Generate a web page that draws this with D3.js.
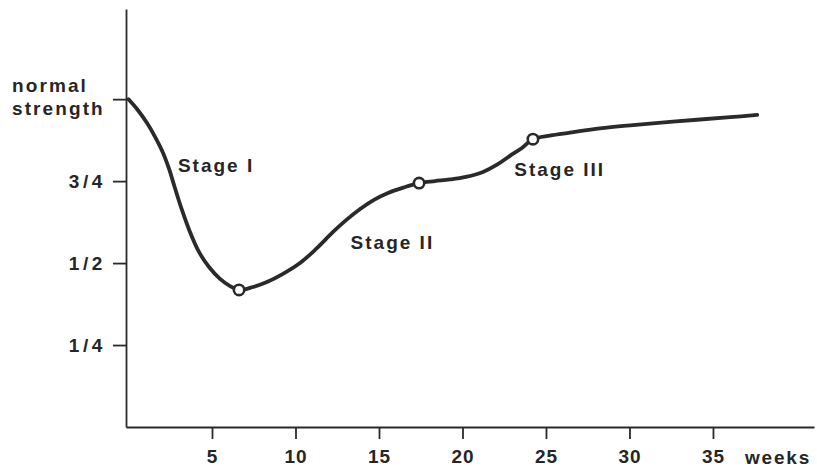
<!DOCTYPE html>
<html>
<head>
<meta charset="utf-8">
<script src="https://cdn.jsdelivr.net/npm/d3@7"></script>
<style>
  html, body { margin: 0; padding: 0; background: #fff; }
  svg { display: block; }
  text { font-family: "Liberation Sans", Arial, Helvetica, sans-serif; font-weight: bold; fill: #262626; }
</style>
</head>
<body>
<svg id="chart" width="817" height="468"></svg>
<script>
// ---- data ----
const weeks = [
  0, 0.51, 1.11, 1.59, 2.07, 2.43, 2.78, 3.20, 3.68, 4.22, 4.82, 5.48, 6.08, 6.62,
  7.46, 8.29, 9.25, 10.27, 11.23, 12.25, 13.03, 13.87, 14.70, 15.54, 16.44, 17.40,
  18.35, 19.25, 20.21, 21.23, 22.07, 22.84, 23.56, 24.22,
  25.24, 26.44, 28.23, 30.21, 32.25, 34.23, 36.03, 37.65
];
const strength = [
  1.0, 0.970, 0.927, 0.885, 0.836, 0.787, 0.729, 0.662, 0.595, 0.534, 0.488, 0.452, 0.430, 0.418,
  0.427, 0.442, 0.467, 0.500, 0.543, 0.595, 0.631, 0.665, 0.693, 0.714, 0.730, 0.744,
  0.750, 0.755, 0.763, 0.778, 0.800, 0.827, 0.851, 0.878,
  0.889, 0.898, 0.911, 0.921, 0.930, 0.938, 0.945, 0.952
];

const markerWeeks    = [6.62, 17.40, 24.22];
const markerStrength = [0.418, 0.744, 0.878];

const xTicks      = [5, 10, 15, 20, 25, 30, 35];
const xUnitLabel  = "weeks";
const yTicks      = [0.25, 0.5, 0.75, 1.0];
const yTickLabels = ["1/4", "1/2", "3/4", ""];
const yTopLabel   = ["normal", "strength"];

const stageLabels   = ["Stage I", "Stage II", "Stage III"];
const stageWeek     = [2.96, 13.3, 23.1];
const stageStrength = [0.777, 0.543, 0.765];

// ---- layout ----
const svg = d3.select("#chart");
const ink = "#2a2a2a";

const x = d3.scaleLinear().domain([-0.15, 41.05]).range([126, 814]);
const y = d3.scaleLinear().domain([0, 1.275]).range([427, 9]);

// y axis
const yAxis = d3.axisLeft(y)
  .tickValues(yTicks)
  .tickSize(13)
  .tickSizeOuter(0)
  .tickPadding(7)
  .tickFormat((d, i) => yTickLabels[i]);

const gy = svg.append("g").attr("transform", `translate(${x(-0.15)},0)`).call(yAxis);
gy.select(".domain").attr("stroke", ink).attr("stroke-width", 1.8);
gy.selectAll(".tick line").attr("stroke", ink).attr("stroke-width", 1.8);
gy.selectAll(".tick text")
  .attr("font-size", 19)
  .attr("letter-spacing", "3.6px")
  .attr("dy", "0.36em")
  .style("font-family", "'Liberation Sans', Arial, sans-serif")
  .style("font-weight", "bold")
  .attr("fill", "#262626");

// x axis
const xAxis = d3.axisBottom(x)
  .tickValues(xTicks)
  .tickSize(12)
  .tickSizeOuter(0)
  .tickPadding(11)
  .tickFormat(d3.format("d"));

const gx = svg.append("g").attr("transform", `translate(0,${y(0)})`).call(xAxis);
gx.select(".domain").attr("stroke", ink).attr("stroke-width", 1.8);
gx.selectAll(".tick line").attr("stroke", ink).attr("stroke-width", 1.8);
gx.selectAll(".tick text")
  .attr("font-size", 19)
  .attr("letter-spacing", "1px")
  .style("font-family", "'Liberation Sans', Arial, sans-serif")
  .style("font-weight", "bold")
  .attr("fill", "#262626");

// "weeks" unit label
svg.append("text")
  .attr("x", 745)
  .attr("y", y(0) + 23 + 13.5)
  .attr("font-size", 19)
  .attr("letter-spacing", "1.8px")
  .text(xUnitLabel);

// "normal strength" label (top tick)
svg.append("text")
  .attr("x", 12)
  .attr("y", y(1.0) - 7)
  .attr("font-size", 19)
  .attr("letter-spacing", "2.1px")
  .selectAll("tspan")
  .data(yTopLabel)
  .join("tspan")
  .attr("x", 12)
  .attr("dy", (d, i) => i === 0 ? 0 : 23)
  .text(d => d);

// curve
const pts = weeks.map((w, i) => [w, strength[i]]);
const line = d3.line()
  .x(d => x(d[0]))
  .y(d => y(d[1]))
  .curve(d3.curveCatmullRom.alpha(0.5));

svg.append("path")
  .datum(pts)
  .attr("d", line)
  .attr("fill", "none")
  .attr("stroke", ink)
  .attr("stroke-width", 3.8)
  .attr("stroke-linecap", "round")
  .attr("stroke-linejoin", "round");

// stage markers
svg.selectAll("circle.marker")
  .data(markerWeeks.map((w, i) => [w, markerStrength[i]]))
  .join("circle")
  .attr("class", "marker")
  .attr("cx", d => x(d[0]))
  .attr("cy", d => y(d[1]))
  .attr("r", 5.2)
  .attr("fill", "#fff")
  .attr("stroke", ink)
  .attr("stroke-width", 2.6);

// stage labels
svg.selectAll("text.stage")
  .data(stageLabels)
  .join("text")
  .attr("class", "stage")
  .attr("x", (d, i) => x(stageWeek[i]))
  .attr("y", (d, i) => y(stageStrength[i]))
  .attr("font-size", 19)
  .attr("letter-spacing", "2px")
  .text(d => d);
</script>
</body>
</html>
